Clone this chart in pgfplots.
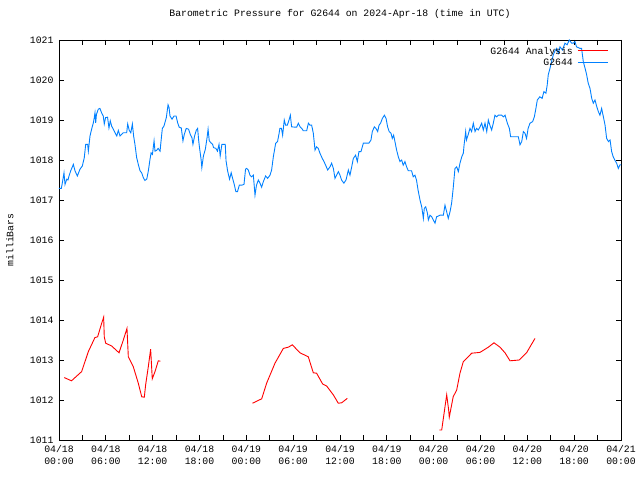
\documentclass[border=0pt]{standalone}
\usepackage{pgfplots}
\pgfplotsset{compat=1.18}
\usepackage{fontspec}
\setmainfont{Liberation Mono}
\definecolor{gpblue}{RGB}{0,128,255}
\definecolor{gpred}{RGB}{255,0,0}
\begin{document}
\begin{tikzpicture}[font=\fontsize{9.8bp}{12bp}\selectfont]
\path[use as bounding box] (-59bp,-40bp) rectangle (581bp,440bp);
\begin{axis}[
  scale only axis, width=562bp, height=400bp,
  anchor=south west, at={(0,0)},
  xmin=0, xmax=72, ymin=1011, ymax=1021,
  xtick={0,6,...,72},
  minor xtick={3,9,...,69},
  xticklabels={{04/18\\00:00},{04/18\\06:00},{04/18\\12:00},{04/18\\18:00},{04/19\\00:00},{04/19\\06:00},{04/19\\12:00},{04/19\\18:00},{04/20\\00:00},{04/20\\06:00},{04/20\\12:00},{04/20\\18:00},{04/21\\00:00}},
  xticklabel style={align=center, yshift=-2bp},
  ytick={1011,1012,...,1021},
  yticklabel style={xshift=-2bp},
  /pgf/number format/.cd, 1000 sep={}, assume math mode=true, /pgfplots/.cd,
  tick align=inside,
  major tick length=5bp, minor tick length=5bp,
  every tick/.style={black, line width=0.8bp},
  axis line style={line width=0.8bp},
  title={Barometric Pressure for G2644 on 2024-Apr-18 (time in UTC)},
  title style={at={(axis description cs:0.5,1)}, anchor=center, yshift=20bp},
  ylabel={milliBars},
  ylabel style={at={(axis description cs:-0.0872,0.5)}, anchor=center},
  unbounded coords=jump,
  legend cell align=right,
  legend image code/.code={},
  legend style={at={(axis description cs:1,1)}, anchor=north east, xshift=-11bp, yshift=-5bp,
    draw=none, fill=none, inner sep=0pt, row sep=-1bp},
]
\addplot[draw=gpred, line width=0.9bp] coordinates {
(0.68,1012.56)(1.6,1012.48)(2.9,1012.71)(3.76,1013.21)(4.6,1013.56)(4.95,1013.58)(5.47,1013.92)(5.72,1014.07)(5.8,1013.58)(5.98,1013.42)(6.75,1013.35)(7.69,1013.18)(8.24,1013.5)(8.71,1013.79)(8.88,1013.08)(9.52,1012.83)(10.16,1012.42)(10.6,1012.08)(10.93,1012.07)(11.1,1012.38)(11.44,1012.83)(11.74,1013.27)(11.95,1012.53)(12.3,1012.71)(12.72,1012.98)(12.98,1012.97)
(18,nan)
(24.8,1011.92)(25.97,1012.03)(26.6,1012.42)(27.67,1012.92)(28.74,1013.29)(29.38,1013.32)(29.89,1013.38)(30.87,1013.18)(31.94,1013.08)(32.58,1012.68)(33.0,1012.67)(33.78,1012.4)(34.29,1012.35)(35.14,1012.13)(35.78,1011.92)(36.21,1011.93)(36.93,1012.04)
(42,nan)
(48.72,1011.25)(49.03,1011.25)(49.67,1012.13)(49.92,1011.75)(50.0,1011.57)(50.5,1012.08)(50.95,1012.25)(51.37,1012.67)(51.8,1012.96)(52.87,1013.17)(53.93,1013.19)(55.0,1013.32)(55.73,1013.43)(56.5,1013.32)(57.14,1013.18)(57.78,1012.98)(58.97,1013.0)(59.9,1013.18)(60.98,1013.54)
};
\addlegendentry{G2644 Analysis\hspace{5bp}\textcolor{gpred}{\rule[2.9bp]{30bp}{0.9bp}}}
\addplot[draw=gpblue, line width=0.9bp] coordinates {
(0,1017.29)(0.3,1017.29)(0.43,1017.43)(0.64,1017.68)(0.77,1017.39)(1.0,1017.52)(1.15,1017.5)(1.28,1017.6)(1.5,1017.73)(1.84,1017.89)(2.05,1017.73)(2.35,1017.6)(2.69,1017.77)(2.99,1017.85)(3.24,1018.06)(3.42,1018.39)(3.67,1018.39)(3.76,1018.22)(3.97,1018.6)(4.18,1018.77)(4.4,1018.93)(4.52,1019.06)(4.61,1019.18)(4.7,1018.93)(4.8,1019.14)(5.03,1019.27)(5.24,1019.29)(5.46,1019.18)(5.67,1019.1)(5.8,1018.9)(5.97,1019.06)(6.22,1019.07)(6.4,1018.8)(6.57,1018.98)(6.74,1018.85)(6.95,1018.77)(7.18,1018.68)(7.4,1018.6)(7.6,1018.74)(7.82,1018.6)(8.03,1018.64)(8.24,1018.68)(8.67,1018.68)(8.8,1018.9)(9.0,1018.74)(9.2,1018.68)(9.4,1018.9)(9.56,1018.6)(9.73,1018.39)(9.95,1018.06)(10.16,1017.89)(10.38,1017.73)(10.59,1017.68)(10.8,1017.56)(11.0,1017.49)(11.24,1017.52)(11.45,1017.73)(11.66,1018.02)(11.8,1018.18)(11.97,1018.14)(12.18,1018.48)(12.3,1018.22)(12.5,1018.24)(12.7,1018.29)(12.95,1018.22)(13.03,1018.39)(13.24,1018.79)(13.45,1018.85)(13.75,1019.06)(13.97,1019.38)(14.1,1019.31)(14.22,1019.1)(14.48,1019.02)(14.74,1019.1)(15.0,1019.1)(15.2,1018.93)(15.4,1018.82)(15.67,1018.8)(15.88,1018.48)(16.05,1018.64)(16.3,1018.79)(16.6,1018.77)(16.82,1018.64)(17.03,1018.56)(17.16,1018.39)(17.37,1018.6)(17.58,1018.74)(17.76,1018.79)(17.9,1018.48)(18.0,1018.31)(18.2,1018.02)(18.3,1017.81)(18.5,1018.1)(18.75,1018.27)(18.97,1018.56)(19.1,1018.77)(19.25,1018.48)(19.46,1018.43)(19.68,1018.39)(19.8,1018.31)(20.1,1018.29)(20.3,1018.22)(20.5,1018.39)(20.65,1018.1)(20.87,1018.39)(21.08,1018.39)(21.3,1018.39)(21.4,1017.98)(21.6,1017.73)(21.85,1017.52)(22.06,1017.68)(22.27,1017.52)(22.45,1017.39)(22.66,1017.21)(22.87,1017.21)(23.1,1017.37)(23.4,1017.37)(23.7,1017.39)(23.9,1017.77)
(24.04,1017.79)(24.25,1017.75)(24.47,1017.62)(24.68,1017.58)(24.9,1017.62)(25.11,1017.12)(25.3,1017.37)(25.54,1017.5)(25.75,1017.42)(25.96,1017.32)(26.18,1017.46)(26.47,1017.6)(26.73,1017.54)(27.03,1017.62)(27.24,1017.75)(27.46,1018.08)(27.76,1018.42)(28.0,1018.46)(28.2,1018.67)(28.3,1018.79)(28.5,1018.79)(28.65,1018.62)(28.86,1019.0)(29.03,1018.87)(29.25,1018.87)(29.47,1019.0)(29.64,1019.12)(29.8,1018.83)(30.25,1018.82)(30.45,1018.82)(30.66,1018.92)(30.88,1018.83)(31.1,1018.79)(31.3,1018.73)(31.73,1018.73)(31.95,1018.92)(32.15,1018.87)(32.37,1018.87)(32.58,1018.67)(32.8,1018.25)(33.0,1018.33)(33.22,1018.29)(33.43,1018.17)(33.73,1018.04)(33.95,1017.96)(34.16,1017.87)(34.42,1017.75)(34.72,1017.83)(34.93,1017.92)(35.15,1017.79)(35.36,1017.54)(35.57,1017.62)(35.79,1017.71)(36.0,1017.62)(36.2,1017.5)(36.5,1017.42)(36.77,1017.5)(37.07,1017.75)(37.28,1017.62)(37.5,1017.83)(37.71,1018.04)(38.0,1018.12)(38.22,1017.96)(38.43,1018.21)(38.69,1018.21)(38.99,1018.42)(39.28,1018.42)(39.7,1018.42)(39.97,1018.5)(40.14,1018.71)(40.4,1018.83)(40.6,1018.79)(40.83,1018.71)(41.0,1018.87)(41.2,1018.92)(41.43,1019.04)(41.69,1019.12)(41.9,1019.04)(42.1,1018.83)(42.3,1018.71)(42.53,1018.67)(42.7,1018.54)(42.87,1018.62)(43.04,1018.46)(43.25,1018.25)(43.47,1018.08)(43.68,1017.96)(43.9,1018.0)(44.1,1017.87)(44.32,1017.96)(44.53,1017.83)(44.75,1017.73)(45.17,1017.73)(45.38,1017.58)(45.6,1017.62)(45.8,1017.5)(46.0,1017.25)(46.25,1017.0)(46.47,1016.83)(46.68,1016.54)(46.8,1016.79)(46.98,1016.83)(47.2,1016.67)(47.32,1016.5)(47.53,1016.62)(47.75,1016.58)(47.96,1016.5)(48.17,1016.42)
(48.38,1016.58)(48.81,1016.62)(49.24,1016.62)(49.45,1016.87)(49.66,1016.71)(49.87,1016.54)(50.1,1016.71)(50.3,1016.92)(50.5,1017.29)(50.73,1017.79)(50.95,1017.83)(51.16,1017.71)(51.37,1017.92)(51.6,1018.08)(51.8,1018.17)(51.9,1018.38)(52.1,1018.71)(52.2,1018.5)(52.4,1018.62)(52.65,1018.79)(52.86,1018.71)(53.08,1018.92)(53.3,1018.71)(53.5,1018.79)(53.72,1018.75)(53.94,1018.83)(54.15,1018.92)(54.36,1018.75)(54.58,1018.92)(54.8,1018.71)(55.0,1019.0)(55.2,1018.87)(55.43,1018.75)(55.64,1018.92)(55.85,1019.12)(56.07,1019.08)(56.28,1019.12)(56.7,1019.12)(56.93,1019.08)(57.15,1019.12)(57.44,1018.92)(57.7,1018.79)(57.86,1018.58)(58.42,1018.58)(58.85,1018.58)(59.06,1018.38)(59.28,1018.46)(59.49,1018.71)(59.7,1018.67)(59.9,1018.54)(60.1,1018.79)(60.34,1018.92)(60.68,1018.96)(60.9,1019.08)(61.1,1019.29)(61.28,1019.5)(61.6,1019.58)(61.9,1019.54)(62.12,1019.71)(62.38,1019.67)(62.55,1019.88)(62.68,1020.13)(62.9,1020.29)(63.1,1020.46)(63.33,1020.63)(63.54,1020.73)(63.75,1020.79)(63.97,1020.67)(64.18,1020.83)(64.5,1020.75)(64.82,1020.92)(65.1,1020.88)(65.37,1021.0)(65.68,1020.92)(65.9,1020.92)(66.1,1020.96)(66.3,1020.83)(66.74,1020.79)(66.95,1020.79)(67.17,1020.46)(67.4,1020.29)(67.6,1020.13)(67.8,1019.92)(68.03,1019.79)(68.25,1019.54)(68.45,1019.42)(68.67,1019.5)(68.9,1019.33)(69.1,1019.21)(69.3,1019.12)(69.52,1019.29)(69.74,1019.08)(69.95,1018.88)(70.16,1018.54)(70.4,1018.46)(70.6,1018.5)(70.8,1018.21)(71.0,1018.08)(71.2,1018.0)(71.44,1017.92)(71.66,1017.79)(71.87,1017.88)(72.0,1017.88)
};
\addlegendentry{G2644\hspace{5bp}\textcolor{gpblue}{\rule[2.9bp]{30bp}{0.9bp}}}
\end{axis}
\end{tikzpicture}
\end{document}
